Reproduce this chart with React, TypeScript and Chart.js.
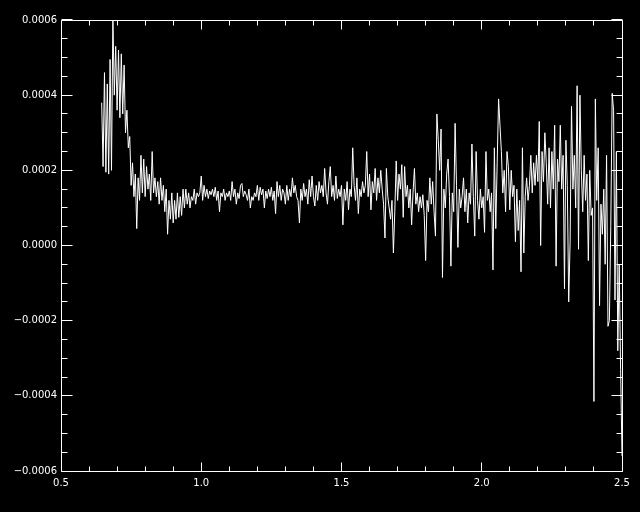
import React, { useEffect, useRef } from "react";
import { Chart, registerables } from "chart.js";

Chart.register(...registerables);

// Spectrum sampling grid (wavelength axis)
const X_START = 0.645;
const X_STEP = 0.005;

// Series values, in units of 1e-4
const FLUX_E4: number[] = [
  3.8, 2.1, 4.6, 1.95, 4.3, 1.9, 4.95, 2.0, 6.1, 4.0,
  5.3, 3.6, 5.2, 3.4, 5.1, 3.5, 4.8, 3.0, 3.6, 2.6,
  2.9, 1.6, 2.2, 1.3, 1.9, 0.45, 1.8, 1.2, 2.4, 1.4,
  2.3, 1.3, 2.1, 1.5, 1.9, 1.2, 2.5, 1.4, 1.8, 1.3,
  1.7, 1.1, 1.8, 1.2, 1.6, 0.9, 1.5, 0.3, 1.2, 0.7,
  1.4, 0.6, 1.2, 0.7, 1.4, 0.75, 1.3, 0.8, 1.5, 1.0,
  1.5, 1.1, 1.4, 1.0, 1.3, 1.2, 1.5, 1.1, 1.4, 1.3,
  1.4, 1.85, 1.2, 1.6, 1.3, 1.5, 1.25, 1.45, 1.35, 1.5,
  1.3, 1.55, 1.2, 1.45, 0.9, 1.4, 1.3, 1.5, 1.2, 1.4,
  1.3, 1.45, 1.2, 1.7, 1.3, 1.5, 1.1, 1.4, 1.25, 1.6,
  1.65, 1.3, 1.45, 1.35, 1.2, 1.5, 1.0, 1.3, 1.2, 1.4,
  1.3, 1.6, 1.2, 1.55, 1.35, 1.5, 1.0, 1.45, 1.25, 1.5,
  1.3, 1.55, 1.2, 1.45, 0.85, 1.7, 1.3, 1.6, 1.2, 1.5,
  1.4, 1.1, 1.6, 1.2, 1.5, 1.3, 1.8, 1.4, 1.6, 1.3,
  1.2, 0.6, 1.5, 1.2, 1.65, 1.3, 1.5, 1.1, 1.75, 1.3,
  1.85, 1.3, 1.05, 1.6, 1.2, 1.7, 1.4, 1.6, 1.3, 2.05,
  1.4, 1.1, 1.7, 2.1, 1.3, 1.6, 1.2, 1.85, 1.25, 1.5,
  1.3, 1.6, 0.55, 1.5, 1.2, 1.7, 0.95, 1.5, 1.3, 2.6,
  1.6, 1.2, 1.8, 0.85, 1.5, 1.3, 1.7, 1.4, 1.6, 2.5,
  1.3, 1.9, 0.95, 1.7, 1.4, 2.05, 1.2, 1.8, 1.4, 2.0,
  1.5, 1.1, 0.2, 2.05, 1.3, 1.0, 0.7, 1.2, -0.2, 0.9,
  2.25, 1.2, 1.9, 1.5, 2.15, 0.75, 2.1, 1.3, 1.6, 1.0,
  1.5, 0.55, 1.4, 2.05, 1.1, 1.4, 0.9, 1.3, 1.0, 1.35,
  0.8, -0.4, 1.2, 0.9, 1.8, 1.1, 1.7, 0.9, 0.25, 3.5,
  2.8, 2.0, 3.1, -0.85, 1.5, 1.0, 1.9, 2.3, 1.3, -0.55,
  1.4, 0.9, 3.25, 1.6, -0.05, 1.5, 1.0, 1.3, 1.8, 0.9,
  1.5, 0.6, 1.4, 1.1, 2.7, 1.3, 0.25, 2.5, 1.2, 0.7,
  1.5, 1.0, 1.3, 0.35, 2.5, 1.2, 1.5, 0.9, 1.4, -0.65,
  2.6, 0.45, 2.2, 3.9, 3.2, 2.5, 1.4, 2.0, 0.9, 2.5,
  2.1, 0.95, 2.0, 1.3, 1.6, 0.1, 1.5, 0.4, 1.2, -0.7,
  2.6, -0.2, 1.3, 1.8, 1.2, 1.6, 2.4, 1.4, 2.2, 1.6,
  2.4, 1.7, 3.3, 0.0, 2.5, 1.7, 3.0, 2.2, 1.1, 2.6,
  1.0, 2.5, 1.5, 3.2, -0.55, 2.3, 1.7, 3.2, 1.5, 2.4,
  -1.15, 2.8, 1.6, -1.5, 0.1, 3.7, 1.5, 2.4, 1.0, 4.25,
  -0.1, 4.0, 2.0, 0.9, 2.4, 1.2, 1.9, -0.4, 2.0, 0.8,
  1.0, -4.15, 3.9, 1.2, 2.6, -1.6, 1.1, 0.3, 1.5, -0.5,
  2.4, -2.15, -2.0, 0.5, 4.05, 3.6, -1.45, 2.5, -2.8, -0.5,
  -3.3, -5.6,
];

const Y_UNIT = 1e-4;

const X_MIN = 0.5;
const X_MAX = 2.5;
const X_MAJOR_STEP = 0.5;
const X_MINOR_PER_MAJOR = 5;

const Y_MIN = -0.0006;
const Y_MAX = 0.0006;
const Y_MAJOR_STEP = 0.0002;
const Y_MINOR_PER_MAJOR = 4;

const FONT = { family: "'DejaVu Sans', sans-serif", size: 10 };

const idlFrame = {
  id: "idlFrame",
  beforeDraw(chart: any) {
    const { ctx, width, height } = chart;
    ctx.save();
    ctx.fillStyle = "#000";
    ctx.fillRect(0, 0, width, height);
    ctx.restore();
  },
  afterDraw(chart: any) {
    const { ctx, chartArea: a } = chart;
    const xs = chart.scales.x;
    const ys = chart.scales.y;
    const L = Math.floor(a.left) + 0.5;
    const R = Math.floor(a.right) + 0.5;
    const T = Math.floor(a.top) + 0.5;
    const B = Math.floor(a.bottom) + 0.5;
    const xLenMajor = Math.round((a.bottom - a.top) * 0.02);
    const xLenMinor = Math.round(xLenMajor / 2);
    const yLenMajor = Math.round((a.right - a.left) * 0.02);
    const yLenMinor = Math.round(yLenMajor / 2);
    ctx.save();
    ctx.strokeStyle = "#fff";
    ctx.lineWidth = 1;
    ctx.beginPath();
    ctx.rect(L, T, R - L, B - T);
    // x ticks (bottom and top, inward)
    const nx = Math.round(((X_MAX - X_MIN) / X_MAJOR_STEP) * X_MINOR_PER_MAJOR);
    for (let k = 0; k <= nx; k++) {
      const v = X_MIN + (k * X_MAJOR_STEP) / X_MINOR_PER_MAJOR;
      const px = Math.floor(xs.getPixelForValue(v)) + 0.5;
      const len = k % X_MINOR_PER_MAJOR === 0 ? xLenMajor : xLenMinor;
      ctx.moveTo(px, B);
      ctx.lineTo(px, B - len);
      ctx.moveTo(px, T);
      ctx.lineTo(px, T + len);
    }
    // y ticks (left and right, inward)
    const ny = Math.round(((Y_MAX - Y_MIN) / Y_MAJOR_STEP) * Y_MINOR_PER_MAJOR);
    for (let k = 0; k <= ny; k++) {
      const v = Y_MIN + (k * Y_MAJOR_STEP) / Y_MINOR_PER_MAJOR;
      const py = Math.floor(ys.getPixelForValue(v)) + 0.5;
      const len = k % Y_MINOR_PER_MAJOR === 0 ? yLenMajor : yLenMinor;
      ctx.moveTo(L, py);
      ctx.lineTo(L + len, py);
      ctx.moveTo(R, py);
      ctx.lineTo(R - len, py);
    }
    ctx.stroke();
    ctx.restore();
  },
};

export default function App() {
  const ref = useRef<HTMLCanvasElement | null>(null);

  useEffect(() => {
    if (!ref.current) return;
    const points = FLUX_E4.map((f, i) => ({
      x: X_START + i * X_STEP,
      y: f * Y_UNIT,
    }));
    const chart = new Chart(ref.current, {
      type: "line",
      data: {
        datasets: [
          {
            data: points,
            borderColor: "#fff",
            borderWidth: 1,
            pointRadius: 0,
            tension: 0,
            fill: false,
          },
        ],
      },
      options: {
        animation: false,
        responsive: false,
        devicePixelRatio: 1,
        events: [],
        layout: { padding: { top: 20, right: 18, left: 0, bottom: 0 } },
        plugins: {
          legend: { display: false },
          tooltip: { enabled: false },
        },
        scales: {
          x: {
            type: "linear",
            min: X_MIN,
            max: X_MAX,
            grid: { display: false, drawTicks: false },
            border: { display: false },
            ticks: {
              stepSize: X_MAJOR_STEP,
              color: "#fff",
              font: FONT,
              padding: 6,
              maxRotation: 0,
              autoSkip: false,
              callback: (v: any) => Number(v).toFixed(1),
            },
            afterFit: (s: any) => {
              s.height = 41;
            },
          },
          y: {
            type: "linear",
            min: Y_MIN,
            max: Y_MAX,
            grid: { display: false, drawTicks: false },
            border: { display: false },
            ticks: {
              stepSize: Y_MAJOR_STEP,
              color: "#fff",
              font: FONT,
              padding: 4,
              autoSkip: false,
              callback: (v: any) => {
                const n = Number(v);
                const s = Math.abs(n).toFixed(4);
                return n < -1e-12 ? "\u2212" + s : s;
              },
            },
            afterFit: (s: any) => {
              s.width = 61;
            },
          },
        },
      },
      plugins: [idlFrame],
    });
    return () => chart.destroy();
  }, []);

  return (
    <div
      style={{
        position: "fixed",
        left: 0,
        top: 0,
        width: 640,
        height: 512,
        background: "#000",
      }}
    >
      <canvas ref={ref} width={640} height={512} />
    </div>
  );
}
